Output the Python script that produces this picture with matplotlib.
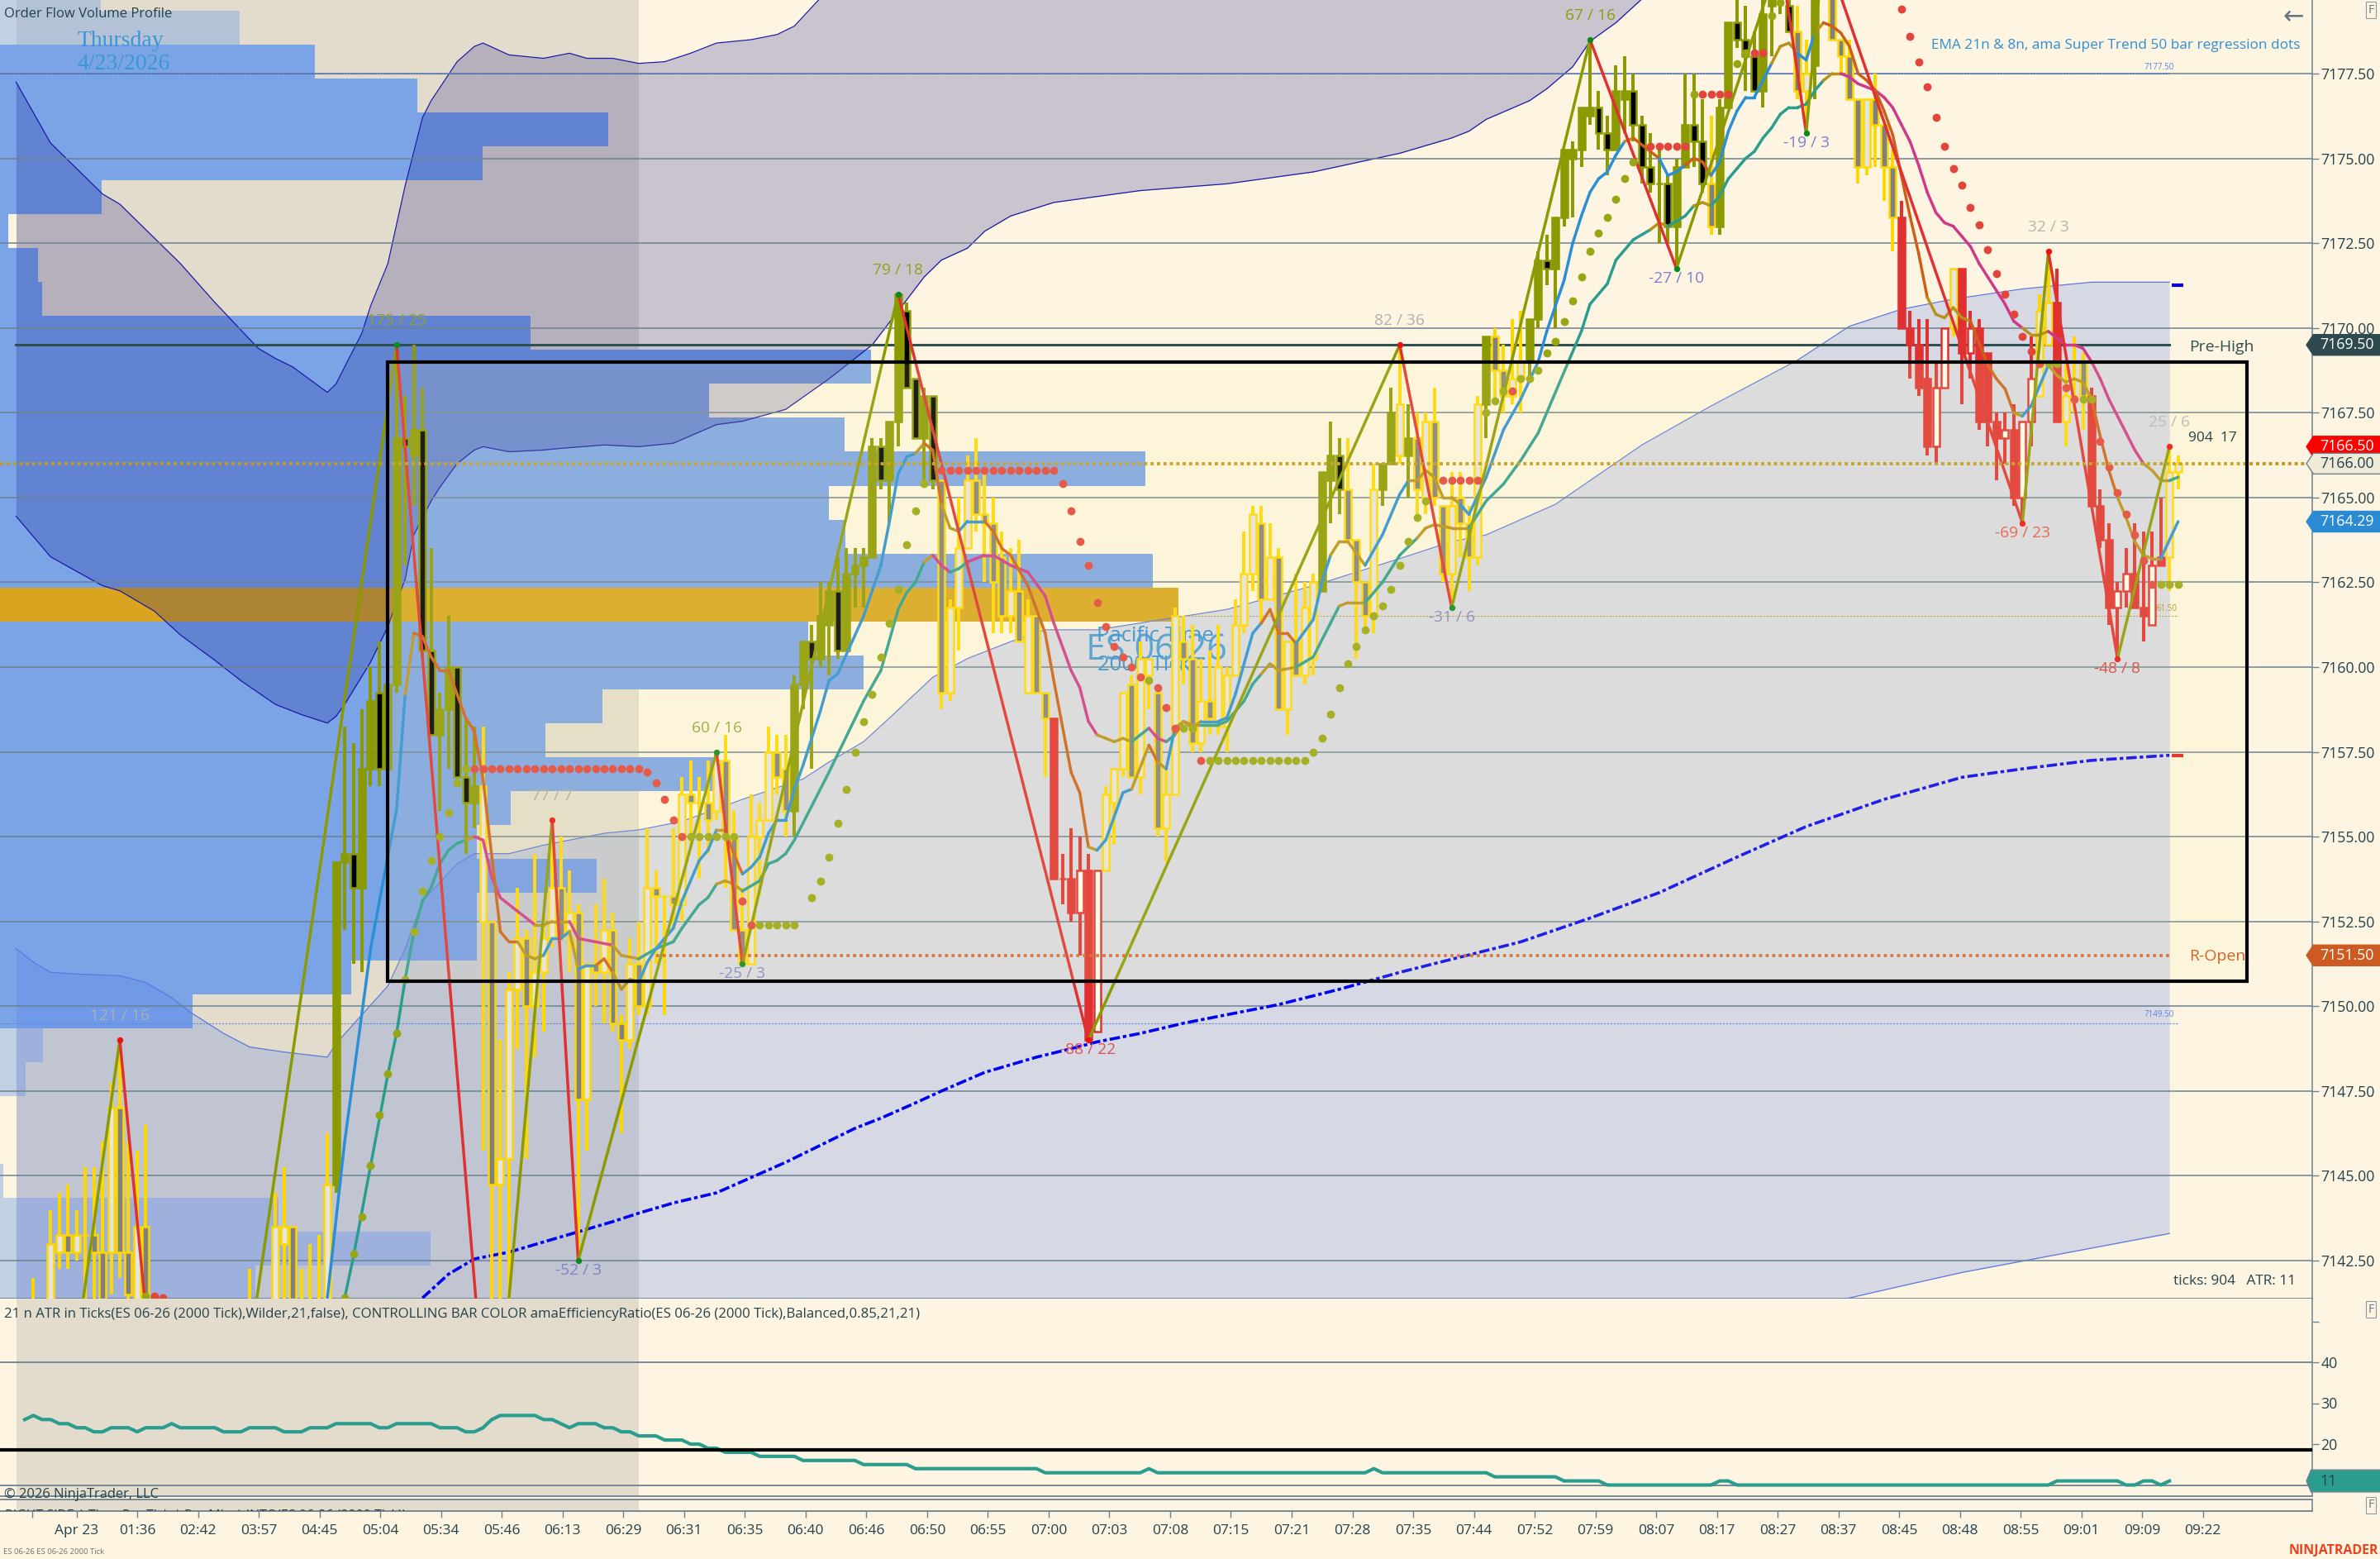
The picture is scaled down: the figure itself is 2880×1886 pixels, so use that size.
import numpy as np
import matplotlib
matplotlib.use("Agg")
import matplotlib.pyplot as plt
from matplotlib.patches import Polygon, Rectangle

plt.rcParams['font.family'] = ['Open Sans', 'DejaVu Sans']

# candles: bar number, open, high, low, close (bars 3, 16-26, 28, 29 are off the pane)
bar_idx = [2] + list(range(4, 16)) + [27] + list(range(30, 251))
bar_kind = ('G'*21 + 'O'*17 + 'G'*36 + 'O'*17 + 'G'*13 + 'R'*6 + 'G'*25 + 'O'*3 + 'G'*4 + 'OO' + 'G' + 'O'
            + 'G'*8 + 'O' + 'G'*4 + 'O'*21 + 'G' + 'O'*9 + 'GG' + 'OO' + 'G'*8 + 'R'*6 + 'G' + 'R'*9 + 'GG' + 'R'
            + 'G'*3 + 'R'*9 + 'GG')
bar_open = [7140, 7141, 7142.75, 7143.25, 7142.75, 7143.25, 7143.25, 7142.75, 7142.75, 7147, 7142.75, 7141, 7143.5,
            7141,
            7141, 7143, 7143.5, 7141, 7141, 7141, 7141,
            7144.75, 7154.25, 7154.5, 7153.5, 7157, 7159.25, 7157, 7159.5, 7166.75, 7166.25,
            7167, 7160.5, 7158, 7158.75, 7160, 7156.75, 7156, 7152.5, 7152.5, 7144.75,
            7145.5, 7150.5, 7152, 7150, 7151, 7152, 7153.5, 7152.25, 7152.75, 7147.25,
            7151.25, 7151, 7152.25, 7149.5, 7149, 7151.25, 7150, 7153.5, 7153.25, 7153.25,
            7153, 7156.25, 7156, 7156, 7155.75, 7157.25, 7155, 7152.25, 7151.25, 7155,
            7155.5, 7157.5, 7157, 7155.75, 7159.5, 7160.75, 7160.25, 7161.25, 7162.25, 7160.5,
            7162.75, 7163, 7163.25, 7166.5, 7165.5, 7167.25, 7170.5, 7168.5, 7166.75, 7168,
            7165.5, 7159.25, 7161.75, 7163.5, 7165.5, 7164.5, 7164.25, 7163.25, 7161.5, 7162.25,
            7159.25, 7161.5, 7159.25, 7158.5, 7153.75, 7153.75, 7152.75, 7154, 7149.25, 7154,
            7156, 7157, 7159.5, 7156.75, 7159.75, 7159.25, 7155.25, 7156.25, 7160.75, 7160.25,
            7157.75, 7159, 7158.25, 7158.25, 7159.75, 7161.25, 7162.75, 7164.25, 7162, 7163.25,
            7158.75, 7160.75, 7159.75, 7160.25, 7162.25, 7165.5, 7166.25, 7165.25, 7163.75, 7162.5,
            7161.5, 7165.25, 7166, 7166.25, 7166.25, 7166.75, 7165, 7167.25, 7164.75, 7162.75,
            7165, 7164.25, 7163.25, 7167.75, 7169.75, 7168.75, 7168, 7168.5, 7169, 7170.25,
            7172, 7171.75, 7173.25, 7175, 7175.25, 7176.25, 7176.5, 7175.75, 7175.25, 7176.75,
            7177, 7176, 7174.75, 7174.25, 7174.25, 7173, 7174.75, 7176, 7175.5, 7174.25,
            7173, 7176.5, 7179, 7178.5, 7178, 7177, 7179.5, 7179.75, 7179.5, 7178.75,
            7177, 7177.75, 7180.5, 7180, 7178.5, 7178, 7176.75, 7174.75, 7176.75, 7176,
            7174.75, 7173.25, 7170, 7169.5, 7168.5, 7166.5, 7168.25, 7170, 7171.75, 7169.25,
            7170, 7169.25, 7167.25, 7166.75, 7167, 7165, 7167.25, 7168, 7169.5, 7170.75,
            7167.25, 7168, 7169, 7168, 7164.75, 7163.75, 7161.75, 7162.25, 7162.75, 7161.75,
            7161.25, 7163.25, 7163.25, 7165.75]
bar_high = [7142, 7144, 7144.5, 7144.75, 7144, 7145.25, 7145.25, 7146, 7147.75, 7149, 7146, 7145.75, 7146.5,
            7142.25,
            7144.5, 7145.25, 7143.5, 7142.25, 7143, 7143.25, 7146.25,
            7154.25, 7158.25, 7157.75, 7158.75, 7160, 7160.75, 7159.5, 7169.5, 7168, 7169.5,
            7168.25, 7163.5, 7159.25, 7161.5, 7160, 7158.5, 7158.25, 7158.25, 7152.5, 7149,
            7151, 7153.5, 7152.25, 7154.5, 7152.75, 7155.5, 7155, 7154, 7153, 7151.25,
            7153, 7153.75, 7152.75, 7149.75, 7152, 7152.5, 7155.25, 7154, 7153.25, 7155.25,
            7156.75, 7157.25, 7156.75, 7157.25, 7157.5, 7158, 7155.75, 7153.5, 7156.25, 7156,
            7158.25, 7158, 7158, 7159.75, 7160.75, 7161.25, 7162.5, 7162.5, 7163.25, 7163.5,
            7163.5, 7163.5, 7166.75, 7166.75, 7167.25, 7171, 7170.75, 7168.5, 7168.25, 7168,
            7165.5, 7162, 7165, 7166.25, 7166.75, 7165.75, 7165, 7164, 7163.5, 7163.75,
            7162, 7161.5, 7159.25, 7158.5, 7154.5, 7155.25, 7155, 7154.5, 7154, 7156.5,
            7157, 7159.25, 7159.75, 7160.75, 7160.25, 7159.5, 7157, 7161.75, 7161.5, 7161.25,
            7160.25, 7160.5, 7161.25, 7160, 7162, 7164, 7164.75, 7164.75, 7164.25, 7163.5,
            7160.75, 7162.75, 7162.5, 7162.75, 7165.75, 7167.25, 7166.75, 7166.75, 7163.75, 7162.5,
            7166, 7166, 7168.25, 7169.5, 7167.75, 7167.5, 7167.5, 7168.25, 7164.75, 7165.75,
            7165.75, 7164.75, 7168, 7169.75, 7170, 7169.5, 7170.25, 7170.5, 7170.25, 7172.25,
            7172.75, 7173.25, 7175.25, 7175.5, 7176.5, 7178.5, 7177, 7176.25, 7177.75, 7178,
            7177.5, 7176.25, 7175.75, 7175.25, 7174.5, 7175, 7177.5, 7177.5, 7176.75, 7176.25,
            7176.75, 7179, 7180, 7179.5, 7178.75, 7180, 7181, 7181, 7180.5, 7179.5,
            7178.5, 7181, 7181.25, 7180.5, 7178.5, 7178.5, 7176.75, 7176.75, 7177.5, 7176,
            7175.25, 7173.75, 7170.5, 7170.25, 7170.25, 7169, 7170, 7171.75, 7171.75, 7170.5,
            7170.25, 7169.25, 7167.5, 7167.5, 7167.75, 7167.25, 7169.75, 7171, 7172.25, 7171.75,
            7169, 7169.75, 7169.25, 7168.25, 7165.25, 7164.25, 7162.5, 7163.5, 7164.25, 7164,
            7164, 7165, 7166.5, 7166.25]
bar_low = [7139, 7140, 7142.25, 7142.25, 7142.5, 7141, 7141, 7140, 7141.5, 7142, 7141, 7140, 7140,
           7139,
           7140, 7140, 7140, 7140, 7140, 7140, 7140,
           7144.5, 7152.25, 7151.25, 7151, 7156.5, 7156.5, 7157, 7159.25, 7163, 7164.75,
           7160.25, 7158, 7155.75, 7157, 7156.75, 7154.5, 7155.25, 7145.75, 7141, 7141,
           7141, 7148.75, 7145.5, 7148.5, 7149.25, 7151.75, 7152, 7151, 7142.5, 7145.75,
           7150, 7149.5, 7149.25, 7146.25, 7148.75, 7149.75, 7149.75, 7151.25, 7149.75, 7152.25,
           7152.5, 7154.75, 7153.75, 7154.5, 7155.5, 7153.5, 7152.25, 7151.25, 7151.25, 7153.25,
           7155.5, 7156.25, 7155, 7155, 7158.75, 7157, 7160, 7159.75, 7160.25, 7160.5,
           7161.75, 7161.75, 7163.25, 7165.25, 7164.25, 7166.5, 7168.25, 7166.75, 7165.5, 7165.25,
           7158.75, 7159, 7160.5, 7163.5, 7164, 7162.5, 7161, 7161, 7161, 7160.75,
           7159.25, 7159.25, 7156.75, 7153.75, 7153, 7152.5, 7151.5, 7149, 7149.25, 7154,
           7154.75, 7156.75, 7156.75, 7156.25, 7158.75, 7155, 7154.25, 7156.25, 7159.5, 7157.5,
           7157.5, 7158, 7158, 7157.5, 7159.75, 7161, 7162.25, 7161.25, 7162, 7158.75,
           7158, 7159.75, 7159.5, 7159.75, 7162.25, 7164.25, 7164.5, 7163.75, 7160.25, 7161,
           7161, 7164.75, 7166, 7166, 7165, 7164.5, 7164.5, 7164.75, 7162.5, 7161.75,
           7163.25, 7162.25, 7163, 7166.75, 7167.75, 7167.5, 7167.75, 7167.5, 7168.5, 7170,
           7171.25, 7170, 7173, 7173.25, 7174.75, 7176, 7175.25, 7174.5, 7175.25, 7175.75,
           7175.5, 7174.25, 7174, 7172.5, 7172.5, 7171.75, 7174.75, 7174.75, 7174, 7172.75,
           7172.75, 7176.5, 7178.25, 7177, 7177, 7176.5, 7178, 7179.25, 7178.75, 7176.75,
           7175.75, 7176.75, 7180, 7178.5, 7177.5, 7176.75, 7174.25, 7174.5, 7174.75, 7173.75,
           7172.25, 7170, 7168.5, 7168, 7166.25, 7166, 7168.25, 7169.75, 7167.75, 7168.5,
           7167, 7166.5, 7165.5, 7166, 7164.75, 7164.25, 7166.5, 7168, 7169.5, 7167.25,
           7166.5, 7167.5, 7167, 7164.75, 7163.5, 7161.25, 7160.25, 7161.75, 7161.75, 7160.75,
           7161.25, 7163, 7162.25, 7165.25]
bar_close = [7141, 7143, 7143.25, 7142.75, 7143.25, 7143.25, 7142.75, 7141, 7147, 7142.75, 7141.5, 7143.5, 7141,
             7141,
             7143.5, 7143.5, 7141, 7141, 7141, 7141, 7144.75,
             7154.25, 7154.5, 7153.5, 7157, 7159, 7157, 7159.5, 7166.75, 7166.5, 7167,
             7160.5, 7158, 7158.75, 7160, 7156.75, 7156, 7156.5, 7156.5, 7144.75, 7145.5,
             7150.5, 7152, 7150, 7151, 7152, 7153.5, 7152, 7152.75, 7147.25, 7151.25,
             7151, 7152.25, 7149.5, 7149, 7151.25, 7150, 7153.5, 7153.25, 7153.25, 7153,
             7156.25, 7156, 7156, 7155.5, 7157.25, 7155, 7152.25, 7151.25, 7155, 7155.5,
             7157.5, 7156.75, 7155.75, 7159.5, 7160.75, 7160.25, 7161.5, 7162.25, 7160.5, 7162.75,
             7163, 7163.25, 7166.5, 7165.5, 7167.25, 7171, 7168.25, 7166.75, 7168, 7165.5,
             7159.25, 7161.75, 7163.5, 7165.5, 7164.5, 7164.25, 7162.5, 7161.5, 7162.25, 7160.75,
             7161.5, 7159.25, 7158.5, 7153.75, 7153.75, 7152.75, 7154, 7149, 7154, 7156.25,
             7157, 7159.25, 7156.75, 7160.25, 7160.25, 7155.25, 7156.25, 7161.5, 7160.25, 7157.75,
             7159, 7158.5, 7160, 7159.75, 7161.25, 7162.75, 7164.5, 7162, 7163.25, 7158.75,
             7160.75, 7159.75, 7161.75, 7162.5, 7165.75, 7166.25, 7165.25, 7163.75, 7162.5, 7161.5,
             7165.25, 7166, 7167.5, 7167.75, 7166.75, 7165.25, 7167.25, 7165, 7162.75, 7164.75,
             7164.25, 7163.25, 7167.75, 7169.75, 7168.75, 7168, 7168.5, 7169, 7170.25, 7172,
             7171.75, 7173.25, 7175.25, 7175.25, 7176.5, 7176.5, 7175.75, 7175.25, 7177, 7177,
             7176, 7174.75, 7174.25, 7174.25, 7173, 7174.75, 7176, 7175.5, 7174.25, 7173,
             7176.5, 7179, 7178.5, 7178, 7177, 7179.25, 7180.25, 7180.5, 7178.75, 7177,
             7177.5, 7180.5, 7181, 7178.5, 7178, 7176.75, 7174.75, 7176.75, 7176, 7174.75,
             7173.25, 7170, 7169.5, 7168.25, 7166.5, 7168.25, 7170, 7171.75, 7169.25, 7170,
             7167.25, 7167.25, 7166.75, 7167, 7165, 7167.25, 7168.5, 7170.5, 7170.75, 7167.25,
             7168, 7168, 7168, 7164.75, 7163.75, 7161.75, 7162.25, 7162.75, 7161.75, 7161.5,
             7163, 7163, 7165.75, 7166]

# ema 8
ema8_bars = [36, 38, 41, 44, 45, 46, 47, 48, 49, 50, 52, 53, 54, 56, 57, 58, 59, 60, 61, 62, 63, 64, 65, 66, 67, 68, 69,
             70, 71, 72, 73, 74, 75, 76, 77, 78, 79, 80, 81, 82, 83, 84, 85, 86, 87, 88, 89, 90, 91, 93, 94, 95, 98,
             100, 101, 102, 103, 104, 105, 106, 107, 108, 109, 110, 112, 113, 114, 115, 117, 119, 120, 122, 123, 124,
             125, 126, 127, 128, 129, 131, 132, 133, 134, 135, 136, 137, 139, 140, 141, 143, 144, 145, 146, 147, 148,
             150, 151, 152, 153, 154, 156, 158, 160, 161, 162, 163, 164, 165, 166, 167, 168, 170, 172, 174, 176, 177,
             179, 180, 181, 182, 183, 184, 185, 186, 187, 190, 191, 192, 193, 194, 195, 196, 197, 198, 199, 200, 201,
             202, 203, 204, 205, 206, 207, 208, 209, 210, 211, 212, 213, 214, 215, 216, 217, 218, 219, 220, 221, 222,
             223, 224, 225, 226, 228, 229, 230, 231, 232, 233, 234, 235, 236, 237, 238, 239, 240, 241, 242, 243, 244,
             245, 246, 247, 248, 250]
ema8_vals = [7141.4, 7146, 7151.7, 7155.8, 7159.2, 7161, 7160.9, 7160.3, 7159.9, 7159.9, 7158.5, 7158.1, 7156.7, 7152.2,
             7151.9, 7151.9, 7151.5, 7151.4, 7151.5, 7152, 7152, 7152.2, 7151.1, 7151.2, 7151.2, 7151.4, 7151, 7150.5,
             7150.8, 7150.7, 7151.3, 7151.7, 7152, 7152.3, 7153.1, 7153.7, 7154.3, 7154.6, 7155.2, 7155.2, 7154.5,
             7153.9, 7154.1, 7154.4, 7155.1, 7155.5, 7155.5, 7156.4, 7157.1, 7158.7, 7159.6, 7159.8, 7161.5, 7163,
             7164.3, 7165.7, 7166.2, 7166.3, 7166.6, 7166.4, 7164.8, 7164.1, 7164, 7164.3, 7164.3, 7164, 7163.5, 7163.3,
             7162.4, 7161, 7159.6, 7156.9, 7156.3, 7154.7, 7154.6, 7154.9, 7155.6, 7156.3, 7156.4, 7157.7, 7157.2, 7157,
             7158.2, 7158.4, 7158.2, 7158.4, 7158.4, 7158.5, 7159.2, 7161, 7161.3, 7161.7, 7161, 7161, 7160.7, 7161.4,
             7162.5, 7163.3, 7163.7, 7163.7, 7163, 7163.9, 7165.1, 7165.5, 7165.5, 7165.8, 7165.6, 7165, 7165, 7164.8,
             7164.5, 7165.6, 7167, 7167.9, 7169, 7169.9, 7171.4, 7172.5, 7173.3, 7174, 7174.4, 7174.6, 7175.1, 7175.5,
             7175.6, 7175, 7174.5, 7174.6, 7174.8, 7175, 7174.9, 7174.5, 7174.9, 7175.8, 7176.4, 7176.8, 7176.8, 7177.3,
             7177.8, 7178.3, 7178.4, 7178.1, 7177.9, 7178.7, 7179, 7178.9, 7178.7, 7178.3, 7177.5, 7177.3, 7177, 7176.4,
             7175.7, 7174.5, 7173.3, 7172.2, 7170.9, 7170.4, 7170.3, 7170.6, 7170.3, 7170.2, 7168.9, 7168.5, 7168.2,
             7167.5, 7167.4, 7167.7, 7168.3, 7168.9, 7168.6, 7168.4, 7168.5, 7168.4, 7167.9, 7166.8, 7165.8, 7165,
             7164.4, 7163.7, 7163.3, 7163.2, 7163.2, 7164.29]

# ema 21
ema21_bars = [38, 39, 41, 43, 44, 45, 46, 47, 48, 49, 50, 51, 52, 53, 54, 55, 56, 58, 60, 61, 62, 64, 65, 67, 69, 70,
              72, 74, 76, 77, 79, 80, 81, 82, 83, 84, 86, 87, 88, 89, 90, 91, 94, 98, 100, 102, 103, 104, 105, 106,
              107, 108, 109, 110, 112, 113, 115, 117, 119, 120, 122, 123, 124, 125, 126, 127, 128, 129, 130, 131, 132,
              133, 134, 135, 136, 137, 138, 139, 140, 141, 142, 143, 144, 145, 146, 148, 150, 152, 153, 154, 156, 158,
              160, 162, 163, 164, 166, 168, 170, 172, 174, 176, 181, 182, 184, 185, 187, 189, 190, 191, 193, 194, 195,
              196, 197, 198, 199, 200, 201, 202, 203, 204, 205, 206, 207, 208, 209, 210, 211, 212, 213, 214, 215, 216,
              217, 218, 219, 220, 221, 222, 223, 224, 225, 226, 227, 228, 229, 230, 231, 232, 233, 234, 235, 236, 237,
              238, 239, 240, 241, 242, 243, 244, 245, 246, 247, 248, 249, 250]
ema21_vals = [7141.4, 7142.6, 7145.3, 7148, 7149.2, 7150.8, 7152.2, 7153.1, 7153.5, 7154.2, 7154.6, 7154.8, 7154.9,
              7155, 7154.9, 7153.8, 7153.2, 7152.8, 7152.4, 7152.4, 7152.5, 7152.5, 7152, 7151.9, 7151.8, 7151.5,
              7151.4, 7151.7, 7151.9, 7152.3, 7153, 7153.2, 7153.6, 7153.7, 7153.6, 7153.4, 7153.7, 7154.2, 7154.3,
              7154.5, 7154.9, 7155.4, 7156.9, 7159, 7159.9, 7161.7, 7162.2, 7162.5, 7163.1, 7163.3, 7163, 7162.8,
              7162.9, 7163.1, 7163.3, 7163.3, 7163, 7162.8, 7162.1, 7161.3, 7159.9, 7159.4, 7158.4, 7158, 7157.9,
              7157.8, 7157.9, 7157.8, 7158, 7158.2, 7157.9, 7157.8, 7158, 7158.4, 7158.3, 7158.3, 7158.3, 7158.3,
              7158.4, 7158.7, 7159, 7159.5, 7159.8, 7160.1, 7159.9, 7160, 7160.3, 7161.3, 7161.8, 7161.9, 7161.9,
              7162.5, 7163.3, 7163.8, 7164.1, 7164.2, 7164.1, 7164.1, 7164.9, 7165.4, 7166.1, 7166.9, 7169.9, 7170.7,
              7171.3, 7172, 7172.6, 7172.9, 7173.1, 7173, 7173.3, 7173.6, 7173.7, 7173.6, 7173.9, 7174.4, 7174.7, 7175,
              7175.2, 7175.6, 7175.9, 7176.3, 7176.5, 7176.5, 7176.6, 7177, 7177.3, 7177.5, 7177.5, 7177.4, 7177.2,
              7177.1, 7177, 7176.8, 7176.5, 7176, 7175.5, 7174.8, 7174, 7173.4, 7173.1, 7173, 7172.7, 7172.4, 7171.9,
              7171.5, 7171.1, 7170.7, 7170.2, 7170, 7169.8, 7169.8, 7169.9, 7169.7, 7169.5, 7169.5, 7169.4, 7169,
              7168.5, 7167.9, 7167.4, 7166.9, 7166.4, 7166, 7165.8, 7165.5, 7165.5, 7165.6]

BLUE = '#2a8fd4'
ORANGE = '#cc6018'
GOLD = '#b8901a'
TEAL = '#2a9d8f'
MAGENTA = '#d0388a'
ema8_colors = [(45, BLUE), (46, GOLD), (58, ORANGE), (61, GOLD), (64, BLUE), (65, GOLD), (67, BLUE), (69, ORANGE),
               (72, GOLD), (81, BLUE), (82, GOLD), (84, ORANGE), (104, BLUE), (105, GOLD), (107, ORANGE), (109, GOLD),
               (112, BLUE), (124, ORANGE), (125, GOLD), (130, BLUE), (131, GOLD), (132, ORANGE), (133, GOLD),
               (134, BLUE), (137, GOLD), (144, BLUE), (148, ORANGE), (152, BLUE), (156, GOLD), (161, BLUE), (167, GOLD),
               (186, BLUE), (187, GOLD), (190, ORANGE), (193, BLUE), (196, ORANGE), (203, BLUE), (206, GOLD),
               (208, BLUE), (209, GOLD), (221, ORANGE), (226, GOLD), (231, ORANGE), (232, GOLD), (235, BLUE),
               (240, GOLD), (243, ORANGE), (248, GOLD), (250, BLUE)]
ema21_colors = [(52, TEAL), (53, GOLD), (60, MAGENTA), (64, GOLD), (69, MAGENTA), (72, GOLD), (81, TEAL), (84, GOLD),
                (105, TEAL), (106, GOLD), (108, MAGENTA), (111, TEAL), (125, MAGENTA), (129, GOLD), (131, TEAL),
                (133, MAGENTA), (134, TEAL), (137, GOLD), (144, TEAL), (148, GOLD), (153, TEAL), (157, GOLD),
                (162, TEAL), (169, GOLD), (189, TEAL), (191, GOLD), (194, TEAL), (196, GOLD), (209, TEAL), (211, GOLD),
                (232, MAGENTA), (235, GOLD), (246, MAGENTA), (249, GOLD), (250, TEAL)]

# super trend dots
st_up_bars = [15] + list(range(38, 53)) + list(range(78, 84)) + list(range(86, 91)) + list(range(92, 106)) + [131, 135, 136] \
    + list(range(138, 164)) + [170, 171, 172, 174, 175] + list(range(176, 188)) + [194, 199, 200, 203, 204, 235, 236, 239, 240, 248, 249, 250]
st_up_vals = [7141.45, 7141.4, 7142.7, 7143.8, 7145.3, 7146.8, 7148, 7149.2, 7150.8, 7152.2, 7153.4, 7154.3, 7155,
              7155.7, 7156.6, 7157,
              7155, 7155, 7155, 7155, 7155, 7155,
              7152.4, 7152.4, 7152.4, 7152.4, 7152.4,
              7153.2, 7153.7, 7154.4, 7155.4, 7156.4, 7157.5, 7158.4, 7159.2, 7160.3, 7161.3, 7162.3, 7163.6, 7164.6,
              7165.4,
              7159.6, 7158.2, 7158.2,
              7157.25, 7157.25, 7157.25, 7157.25, 7157.25, 7157.25, 7157.25, 7157.25, 7157.25, 7157.25, 7157.25,
              7157.25, 7157.5, 7157.9, 7158.6, 7159.4, 7160.1, 7160.6, 7161.1, 7161.5, 7161.8, 7162.3, 7163, 7163.7,
              7164.4, 7164.9,
              7167.5, 7167.85, 7168.15, 7168.5, 7168.5,
              7168.75, 7169.25, 7169.6, 7170.2, 7170.8, 7171.5, 7172.25, 7172.8, 7173.25, 7173.8, 7174.4, 7174.9,
              7176.9, 7177.8, 7178.1, 7179.2, 7179.6, 7168.95, 7168.95, 7167.9, 7167.9, 7162.45, 7162.45, 7162.45]
st_dn_bars = [16, 17] + list(range(53, 78)) + [84, 85] + list(range(107, 131)) + [132, 133, 134, 137] \
    + list(range(165, 170)) + [173] + list(range(189, 194)) + [195, 196, 197, 198, 201, 202] \
    + list(range(218, 235)) + [237, 238] + list(range(241, 248))
st_dn_vals = [7141.45, 7141.4,
              7157, 7157, 7157, 7157, 7157, 7157, 7157, 7157, 7157, 7157, 7157, 7157, 7157, 7157, 7157, 7157, 7157,
              7157, 7157, 7157, 7156.9, 7156.6, 7156.1, 7155.5, 7155,
              7153.1, 7152.4,
              7165.8, 7165.8, 7165.8, 7165.8, 7165.8, 7165.8, 7165.8, 7165.8, 7165.8, 7165.8, 7165.8, 7165.8, 7165.8,
              7165.8, 7165.4, 7164.6, 7163.7, 7163, 7161.9, 7161.2, 7160.6, 7160.3, 7160, 7159.7,
              7159.4, 7158.8, 7158.2, 7157.25,
              7165.5, 7165.5, 7165.5, 7165.5, 7165.5,
              7168.15,
              7175.35, 7175.35, 7175.35, 7175.35, 7175.35,
              7176.9, 7176.9, 7176.9, 7176.9, 7178.1, 7178.1,
              7179.4, 7178.6, 7177.85, 7177.1, 7176.2, 7175.35, 7174.7, 7174.2, 7173.55, 7173.05, 7172.3, 7171.6, 7171,
              7170.4, 7169.75, 7169.3, 7168.95,
              7168.25, 7167.9,
              7166.65, 7165.9, 7165.15, 7164.5, 7163.9, 7163.15, 7162.45]

# zigzag swings
zz_bars = [3, 12, 20, 44, 55, 62, 65, 81, 84, 102, 124, 160, 166, 182, 192, 204, 207, 209, 232, 235, 243, 249]
zz_vals = [7132.75, 7149, 7127.75, 7169.5, 7135.75, 7155.5, 7142.5, 7157.5, 7151.25, 7171, 7149, 7169.5, 7161.75,
           7178.5, 7171.75, 7181, 7175.75, 7181.25, 7164.25, 7172.25, 7160.25, 7166.5]
zz_labels = ['', '121 / 16', '', '175 / 25', '', '77 / 7', '-52 / 3', '60 / 16', '-25 / 3', '79 / 18', '-88 / 22',
             '82 / 36', '-31 / 6', '67 / 16', '-27 / 10', '', '-19 / 3', '', '-69 / 23', '32 / 3', '-48 / 8', '25 / 6']
zz_label_colors = ['', '#a9afbb', '', '#93a020', '', '#b5b2a8', '#7f84c4', '#a5ad45', '#8f92c8', '#93a020', '#e0505a',
                   '#b0b0ae', '#9095bf', '#8f9c10', '#7a7fd0', '', '#7a7fd0', '', '#e86a55', '#b5b5ae', '#e0554a',
                   '#bdbdb5']
zz_node_colors = ['', '#ee1111', '', '#0a8a1e', '', '#ee1111', '#0a8a1e', '#0a8a1e', '#0a8a1e', '#0a8a1e', '#ee1111',
                  '#ee1111', '#0a8a1e', '#0a8a1e', '#0a8a1e', '', '#0a8a1e', '', '#ee1111', '#ee1111', '#ee1111',
                  '#ee1111']

# regression channel
reg_top_bars = [0, 4, 10, 12, 16, 19, 23, 28, 30, 32, 36, 37, 38, 40, 41, 43, 45, 47, 48, 51, 53, 54, 57, 61, 64, 66,
                69, 72, 75, 78, 81, 85, 88, 90, 94, 100, 250]
reg_top_vals = [7177.25, 7175.45, 7173.95, 7173.65, 7172.65, 7171.9, 7170.75, 7169.4, 7169.1, 7168.85, 7168.1, 7168.35,
                7168.85, 7169.85, 7170.65, 7171.9, 7174.2, 7176.2, 7176.7, 7177.85, 7178.3, 7178.4, 7178.05, 7177.95,
                7178.1, 7177.95, 7177.95, 7177.8, 7177.85, 7178.1, 7178.4, 7178.5, 7178.65, 7178.9, 7180, 7182, 7190]
reg_upper_bars = [0, 4, 10, 12, 16, 19, 23, 26, 30, 33, 36, 37, 38, 41, 43, 45, 46, 48, 49, 51, 53, 54, 57, 61, 63, 68,
                  72, 76, 81, 84, 89, 94, 99, 102, 105, 107, 110, 112, 115, 120, 130, 140, 150, 160, 166, 168, 170, 175,
                  177, 180, 182, 185, 188, 195, 250]
reg_upper_vals = [7164.45, 7163.25, 7162.4, 7162.25, 7161.65, 7160.95, 7160.2, 7159.6, 7158.9, 7158.6, 7158.35, 7158.55,
                  7158.9, 7160.15, 7161.2, 7162.6, 7163.9, 7164.9, 7165.3, 7166, 7166.4, 7166.5, 7166.35, 7166.4,
                  7166.45, 7166.55, 7166.5, 7166.6, 7167.15, 7167.25, 7167.6, 7168.5, 7169.5, 7170.5, 7171.5, 7172,
                  7172.35, 7172.85, 7173.3, 7173.7, 7174.05, 7174.25, 7174.6, 7175.15, 7175.6, 7175.8, 7176.15, 7176.7,
                  7177.05, 7177.7, 7178.45, 7179, 7179.7, 7181, 7188]
reg_lower_bars = [0, 2, 4, 7, 12, 15, 18, 20, 24, 27, 31, 36, 37, 40, 43, 45, 47, 51, 53, 57, 61, 64, 68, 72, 77, 84,
                  91, 94, 98, 101, 106, 110, 115, 119, 123, 125, 140, 150, 160, 166, 170, 178, 188, 196, 206, 212, 218,
                  224, 232, 240, 249]
reg_lower_vals = [7151.7, 7151.3, 7151, 7150.95, 7150.9, 7150.7, 7150.25, 7149.85, 7149.2, 7148.8, 7148.65, 7148.5,
                  7148.9, 7149.75, 7150.6, 7151.7, 7153.1, 7154.2, 7154.5, 7154.5, 7154.75, 7154.9, 7155.1, 7155.2,
                  7155.45, 7156.1, 7156.7, 7157.2, 7157.8, 7158.5, 7159.7, 7160.25, 7160.75, 7161.1, 7161.1, 7161.1,
                  7161.7, 7162.4, 7163.2, 7163.7, 7163.9, 7164.8, 7166.55, 7167.7, 7169.05, 7170.05, 7170.55, 7170.85,
                  7171.15, 7171.35, 7171.35]
reg_floor_bars = [0, 212, 218, 225, 249]
reg_floor_vals = [7130, 7141.4, 7141.75, 7142.15, 7143.3]
reg_mid_bars = [47, 50, 53, 57, 61, 65, 69, 72, 76, 81, 85, 89, 93, 97, 100, 104, 107, 112, 118, 122, 125, 130, 135,
                141, 146, 153, 160, 167, 174, 182, 190, 199, 207, 216, 225, 232, 240, 249]
reg_mid_vals = [7141.4, 7142.1, 7142.55, 7142.75, 7143.05, 7143.35, 7143.65, 7143.9, 7144.2, 7144.5, 7144.95, 7145.4,
                7145.9, 7146.4, 7146.7, 7147.15, 7147.5, 7148.05, 7148.5, 7148.75, 7148.95, 7149.2, 7149.5, 7149.8,
                7150.05, 7150.5, 7151, 7151.45, 7151.9, 7152.6, 7153.35, 7154.4, 7155.3, 7156.1, 7156.75, 7157,
                7157.25, 7157.4]

# volume profile, one row per point
vp_tops = [7180.35 - k for k in range(39)]
vp_volume = [11.7, 27.7, 36.4, 48.3, 70.3, 55.8, 11.8, 1.0, 4.4, 4.9, 61.3, 100.7, 82, 97.7, 132.4, 95.8, 97.8, 133.3,
             136.3, 93.5, 99.9, 69.7, 63.1, 82.5, 59.1, 55.1, 69, 55.1, 55.1, 40.6, 22.3, 5, 3, 0, 0, 0.4, 32.2, 49.8,
             29.5]
vp_alpha = [.45, .45] + [1]*29 + [.45, .45, 1, 1, .45, .45, .45, .45]
vp_poc_row = 18

# atr pane
atr_vals = ([26, 27, 26, 26, 25, 25, 24, 24, 23, 23, 24, 24, 24, 23, 24, 24, 24, 25] + [24]*5 + [23]*3 + [24]*4 + [23]*3
            + [24]*3 + [25]*5 + [24]*2 + [25]*5 + [24]*3 + [23]*2 + [24, 26] + [27]*5 + [26, 26, 25, 24] + [25]*3
            + [24]*2 + [23]*2 + [22]*3 + [21]*3 + [20]*2 + [19]*2 + [18]*4 + [17]*5 + [16]*7 + [15]*6 + [14]*15
            + [13]*12 + [14] + [13]*25 + [14] + [13]*13 + [12]*8 + [11]*5 + [10]*13 + [11, 11] + [10]*37 + [11]*8
            + [10, 10] + [11, 11] + [10, 11])
atr_bars = list(range(1, 1 + len(atr_vals)))
atr_guide = 18.6

price_ticks = [7142.5, 7145, 7147.5, 7150, 7152.5, 7155, 7157.5, 7160, 7162.5, 7165, 7167.5, 7170, 7172.5, 7175, 7177.5]
time_labels = ['Apr 23', '01:36', '02:42', '03:57', '04:45', '05:04', '05:34', '05:46', '06:13', '06:29', '06:31',
               '06:35', '06:40', '06:46', '06:50', '06:55', '07:00', '07:03', '07:08', '07:15', '07:21', '07:28',
               '07:35', '07:44', '07:52', '07:59', '08:07', '08:17', '08:27', '08:37', '08:45', '08:48', '08:55',
               '09:01', '09:09', '09:22']

W, H = 2880, 1886
BG = '#fdf5e2'
GRID = '#6c8290'
DARK = '#24414c'
TXT_BLUE = '#2e8fd4'
BAR_W = 10.465
X0 = 19.4
OLIVE = '#8a9a00'

fig = plt.figure(figsize=(W/100, H/100), dpi=100, facecolor=BG)


def pane(top, bottom):
    a = fig.add_axes([0, 1 - bottom/H, 2798/W, (bottom - top)/H], facecolor=BG)
    a.set_xlim(-X0/BAR_W, (2798 - X0)/BAR_W)
    for s in ['top', 'left', 'bottom']:
        a.spines[s].set_visible(False)
    a.spines['right'].set_color(GRID)
    a.spines['right'].set_linewidth(1.1)
    a.yaxis.tick_right()
    a.tick_params(axis='y', length=5.5, width=1, color=GRID, labelsize=12.8, labelcolor=DARK, pad=2)
    a.set_xticks([])
    return a


def put(x, y, s, **kw):
    kw.setdefault('va', 'center')
    fig.text(x/W, 1 - y/H, s, **kw)


def colored(a, bars, vals, colors, lw=2.5):
    k = 0
    for j in range(len(bars) - 1):
        while bars[j + 1] > colors[k][0]:
            k += 1
        a.plot(bars[j:j + 2], vals[j:j + 2], color=colors[k][1], lw=lw, zorder=7, solid_capstyle='round')


def flag(a, val, half, text, face, tc, edge=None, z=30):
    t = a.get_yaxis_transform()
    pts = [(0.9975, val), (1.0005, val + half), (1.03, val + half), (1.03, val - half), (1.0005, val - half)]
    a.add_patch(Polygon(pts, closed=True, transform=t, facecolor=face, edgecolor=edge or face, lw=1, clip_on=False, zorder=z))
    a.text(1.0032, val, text, transform=t, color=tc, fontsize=12.8, va='center', ha='left', zorder=z + 1, clip_on=False)


ax = pane(0, 1571)
ax.set_ylim(7177.5 - (1571 - 89)/41.03, 7177.5 + 89/41.03)
ax.spines['bottom'].set_visible(True)
ax.spines['bottom'].set_color(GRID)
ax.spines['bottom'].set_linewidth(1.3)
ax.set_yticks(price_ticks)
ax.set_yticklabels(['%.2f' % p for p in price_ticks])

xleft = ax.get_xlim()[0]
shade = dict(color='#3a3a3a', alpha=0.13, lw=0, zorder=1)
ax.axvspan(0.05, 72, **shade)

# profile
for k in range(len(vp_tops)):
    col = '#d9a520' if k == vp_poc_row else '#7ba4e7'
    ax.barh(vp_tops[k] - 0.5, vp_volume[k], height=1.0, left=xleft, color=col, alpha=vp_alpha[k], lw=0, zorder=2)

# channel fills and edges
fill_x = np.arange(0, 250)
fill_top = np.interp(fill_x, reg_top_bars, reg_top_vals)
fill_up = np.interp(fill_x, reg_upper_bars, reg_upper_vals)
fill_low = np.interp(fill_x, reg_lower_bars, reg_lower_vals)
fill_floor = np.interp(fill_x, reg_floor_bars, reg_floor_vals)
ax.fill_between(fill_x, fill_up, fill_top, color='#000080', alpha=0.2, lw=0, zorder=3)
ax.fill_between(fill_x, fill_floor, fill_low, color='#4c76eb', alpha=0.22, lw=0, zorder=3)
ax.plot(reg_top_bars, reg_top_vals, color='#1a1aa8', lw=0.9, zorder=3.5)
ax.plot(reg_upper_bars, reg_upper_vals, color='#1a1aa8', lw=0.9, zorder=3.5)
ax.plot(reg_lower_bars, reg_lower_vals, color='#5a78dc', lw=0.9, zorder=3.5)
ax.plot(reg_floor_bars, reg_floor_vals, color='#5a78dc', lw=0.9, zorder=3.5)

for p in price_ticks:
    ax.axhline(p, color=GRID, lw=1.1, zorder=4)
ax.plot([xleft, 249], [7177.5, 7177.5], color='#3a66d8', lw=0.8, ls=(0, (2, 1)), zorder=4.1)
ax.plot([xleft, 250], [7149.5, 7149.5], color='#5a86e0', lw=0.8, ls=(0, (2, 1.5)), zorder=4.1)
ax.plot([134, 250], [7161.5, 7161.5], color='#b89a3a', lw=0.8, ls=(0, (2, 1.5)), zorder=4.1)
ax.plot([0, 249], [7169.5, 7169.5], color='#2f5050', lw=2.2, zorder=4.2)

ax.plot(reg_mid_bars, reg_mid_vals, color='#0000f0', lw=2.6, ls=(0, (3.5, 1, 1.2, 1)), zorder=5)

# candles
for k, i in enumerate(bar_idx):
    o, hi, lo, c = bar_open[k], bar_high[k], bar_low[k], bar_close[k]
    kind = bar_kind[k]
    up = c >= o
    if kind == 'O':
        wick = OLIVE
        face = OLIVE if up else '#000000'
    elif kind == 'G':
        wick = '#ffd700'
        face = '#e4e4e0' if up else '#808080'
    else:
        wick = '#e03030'
        face = '#fffbee' if up else '#e03030'
    ax.vlines(i, lo, hi, colors=wick, lw=2.9, zorder=6)
    ax.bar(i, abs(c - o), bottom=min(o, c), width=0.76, facecolor=face, edgecolor=wick, lw=1.8, zorder=6.2)

colored(ax, ema21_bars, ema21_vals, ema21_colors)
colored(ax, ema8_bars, ema8_vals, ema8_colors)

# zigzag
for j in range(len(zz_bars) - 1):
    col = OLIVE if zz_vals[j + 1] > zz_vals[j] else '#e03030'
    ax.plot(zz_bars[j:j + 2], zz_vals[j:j + 2], color=col, lw=2.5, zorder=8)

# dots
ax.scatter(st_up_bars, st_up_vals, s=50, color='#98a614', lw=0, zorder=9)
ax.scatter(st_dn_bars, st_dn_vals, s=50, color='#e2453c', lw=0, zorder=9)

# swing nodes and labels
for j in range(len(zz_bars)):
    if zz_labels[j] == '':
        continue
    ax.scatter([zz_bars[j]], [zz_vals[j]], s=28, color=zz_node_colors[j], lw=0, zorder=9.5)
    is_low = zz_labels[j].startswith('-')
    ax.annotate(zz_labels[j], (zz_bars[j], zz_vals[j]), xytext=(0, -12 if is_low else 29),
                textcoords='offset pixels', ha='center', va='center', color=zz_label_colors[j], fontsize=13.8, zorder=11)

# session levels
ax.plot([xleft, ax.get_xlim()[1]], [7166, 7166], color='#c09a1a', lw=2.8, ls=(0, (1, 1)), zorder=9.6)
ax.plot([74, 249], [7151.5, 7151.5], color='#d2622a', lw=2.6, ls=(0, (1, 1.2)), zorder=9.6)
ax.hlines(7171.25, 249.3, 250.6, color='#0000f0', lw=3, zorder=9.7)
ax.hlines(7157.4, 249.3, 250.6, color='#e02020', lw=3, zorder=9.7)

# drawn box on top
ax.add_patch(Rectangle((43, 7150.75), 215, 18.25, facecolor=(1, 0.96, 0.67, 0.13), edgecolor='black', lw=3, zorder=10))

# big watermark text, behind the candles
ax.text(1399/W, 1 - 787/H, 'ES 06-26', transform=fig.transFigure, color=TXT_BLUE, alpha=0.85, fontsize=31, ha='center', va='center', zorder=5.5)
ax.text(1398/W, 1 - 769/H, 'Pacific Time', transform=fig.transFigure, color=TXT_BLUE, fontsize=18.5, ha='center', va='center', zorder=5.6)
ax.text(1384/W, 1 - 805/H, '2000 Tick', transform=fig.transFigure, color=TXT_BLUE, fontsize=18.5, ha='center', va='center', zorder=5.6)

flag(ax, 7169.5, 0.305, '7169.50', '#2f4a4f', 'white')
flag(ax, 7166.5, 0.305, '7166.50', '#ff0000', 'white', z=30)
flag(ax, 7166.0, 0.305, '7166.00', '#efe9d8', DARK, edge=GRID, z=33)
flag(ax, 7164.29, 0.305, '7164.29', '#2a8bd4', 'white')
flag(ax, 7151.5, 0.305, '7151.50', '#cd5a20', 'white')

# atr pane
ax2 = pane(1571, 1810)
ax2.set_ylim(40 - (1810 - 1648)/4.95, 40 + (1648 - 1571)/4.95)
ax2.spines['bottom'].set_visible(True)
ax2.spines['bottom'].set_color(GRID)
ax2.spines['bottom'].set_linewidth(1.3)
ax2.set_yticks([20, 30, 40, 50])
ax2.set_yticklabels(['20', '30', '40', ''])
ax2.axvspan(0.05, 72, **shade)
ax2.axhline(40, color=GRID, lw=1.3, zorder=2)
ax2.axhline(10, color=GRID, lw=1.3, zorder=2)
ax2.plot(atr_bars, atr_vals, color=TEAL, lw=3, zorder=3)
ax2.plot(ax2.get_xlim(), [atr_guide, atr_guide], color='black', lw=3, zorder=4)
t2 = ax2.get_yaxis_transform()
ax2.add_patch(Polygon([(0.9975, 11), (0.9995, 13.7), (1.03, 13.7), (1.03, 8.3), (0.9995, 8.3)], transform=t2, facecolor=TEAL,
                      edgecolor=GRID, lw=1, clip_on=False, zorder=30))
ax2.text(1.0032, 11, '11', transform=t2, color=DARK, fontsize=12.8, va='center', zorder=31, clip_on=False)

# third thin pane with the time axis
ax3 = pane(1814, 1828)
ax3.set_ylim(0, 1)
ax3.set_yticks([])
ax3.spines['top'].set_visible(True)
ax3.spines['top'].set_color(GRID)
ax3.spines['top'].set_linewidth(1.3)
ax3.spines['bottom'].set_visible(True)
ax3.spines['bottom'].set_color(GRID)
ax3.spines['bottom'].set_linewidth(1.3)
ax3.axvspan(0.05, 72, **shade)
tick_pos = [1.92] + [7.0 + 7.025*k for k in range(len(time_labels))]
ax3.set_xticks(tick_pos)
ax3.set_xticklabels([''] + time_labels)
ax3.tick_params(axis='x', length=5.5, width=1, color=GRID, labelsize=12.5, labelcolor=DARK, pad=6)
right_side = ax3.text(0.002, -1.0, 'RIGHT SIDE | Time Per Tick | Per Min | INTO(ES 06-26 (2000 Tick))', transform=ax3.transAxes,
                      color=DARK, fontsize=11.5, va='bottom', clip_on=True)
right_side.set_clip_path(ax3.patch)

# texts
put(5, 17, 'Order Flow Volume Profile', color=DARK, fontsize=12)
put(93, 50, 'Thursday', color='#3a96d6', fontsize=20, family=['Liberation Serif'])
put(93, 78, '4/23/2026', color='#3a96d6', fontsize=20, family=['Liberation Serif'])
put(2337, 55, 'EMA 21n & 8n, ama Super Trend 50 bar regression dots', color=TXT_BLUE, fontsize=12.4)
put(2775, 21, '\u2190', color='#62767f', fontsize=22, ha='center')
put(2648, 530, '904  17', color=DARK, fontsize=12.5)
put(2649, 420, 'Pre-High', color='#2f5050', fontsize=14)
put(2649, 1157, 'R-Open', color='#d2622a', fontsize=14)
put(2595, 82, '7177.50', color='#5a86e0', fontsize=7)
put(2595, 1228, '7149.50', color='#5a86e0', fontsize=7)
put(2610, 737, '61.50', color='#b89a3a', fontsize=7)
put(2630, 1550, 'ticks: 904   ATR: 11', color=DARK, fontsize=12.4)
put(5, 1590, '21 n ATR in Ticks(ES 06-26 (2000 Tick),Wilder,21,false), CONTROLLING BAR COLOR amaEfficiencyRatio(ES 06-26 (2000 Tick),Balanced,0.85,21,21)',
    color=DARK, fontsize=12.1)
put(5, 1808, '\u00a9 2026 NinjaTrader, LLC', color=DARK, fontsize=11.9)
put(4, 1877, 'ES 06-26 ES 06-26 2000 Tick', color='#707070', fontsize=6.8)
put(2878, 1876, 'NINJATRADER', color='#e8441f', fontsize=11.5, ha='right', fontweight='bold')
for y in [12, 1584, 1821]:
    put(2869, y, 'F', color='#62767f', fontsize=10, ha='center',
        bbox=dict(facecolor=BG, edgecolor='#8a9aa4', lw=0.8, pad=1.5))

fig.savefig('out.png', dpi=100, facecolor=BG)
